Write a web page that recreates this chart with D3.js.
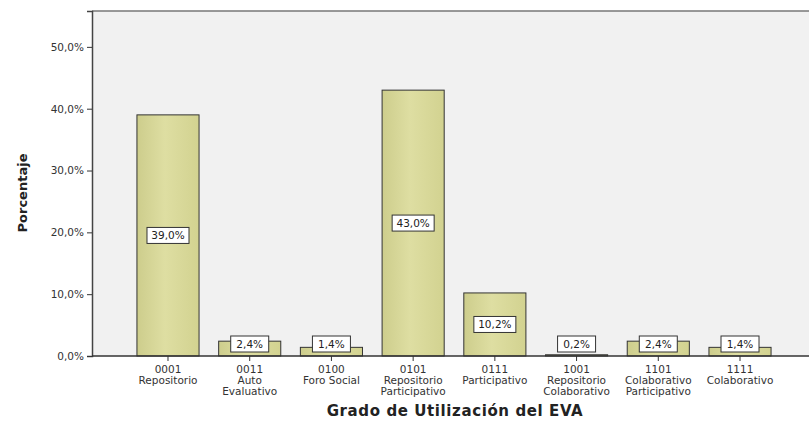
<!DOCTYPE html>
<html>
<head>
<meta charset="utf-8">
<script src="https://cdn.jsdelivr.net/npm/d3@7"></script>
<style>
  body { margin: 0; background: #fff; }
  text { font-family: 'DejaVu Sans', Verdana, sans-serif; }
</style>
</head>
<body>
<div id="chart"></div>
<script>
var codes = ['0001', '0011', '0100', '0101', '0111', '1001', '1101', '1111']
var names = [
  ['Repositorio'],
  ['Auto', 'Evaluativo'],
  ['Foro Social'],
  ['Repositorio', 'Participativo'],
  ['Participativo'],
  ['Repositorio', 'Colaborativo'],
  ['Colaborativo', 'Participativo'],
  ['Colaborativo']
]
var values = [39.0, 2.4, 1.4, 43.0, 10.2, 0.2, 2.4, 1.4]
var yTicks = [0, 10, 20, 30, 40, 50]

var margin = { top: 11, left: 92, right: 0, bottom: 70 }
var width = 809 - margin.left - margin.right
var height = 426 - margin.top - margin.bottom

var svg = d3
  .select('#chart')
  .append('svg')
  .attr('width', 809)
  .attr('height', 426)

var defs = svg.append('defs')
var grad = defs.append('linearGradient').attr('id', 'barFill')
grad.append('stop').attr('offset', '0%').attr('stop-color', '#cdcd8c')
grad.append('stop').attr('offset', '45%').attr('stop-color', '#dedea2')
grad.append('stop').attr('offset', '100%').attr('stop-color', '#d2d290')

var g = svg.append('g').attr('transform', `translate(${margin.left},${margin.top})`)

var xPositionScale = d3
  .scaleBand()
  .domain(codes)
  .range([0, 724])
  .paddingInner(0.24)
  .paddingOuter(0.55)

var yPositionScale = d3
  .scaleLinear()
  .domain([0, 55.8])
  .range([height, 0])

// plot background
g.append('rect')
  .attr('x', 0)
  .attr('y', 0)
  .attr('width', width)
  .attr('height', height)
  .attr('fill', '#f1f1f1')

g.append('line')
  .attr('x1', 0).attr('x2', width)
  .attr('y1', 0).attr('y2', 0)
  .attr('stroke', '#777')
  .attr('stroke-width', 1.5)

// bars
g.selectAll('.bar')
  .data(values)
  .enter()
  .append('rect')
  .attr('class', 'bar')
  .attr('x', (d, i) => xPositionScale(codes[i]))
  .attr('y', d => yPositionScale(d))
  .attr('width', xPositionScale.bandwidth())
  .attr('height', d => height - yPositionScale(d))
  .attr('fill', 'url(#barFill)')
  .attr('stroke', '#333')
  .attr('stroke-width', 1)

// value labels
var labels = g.selectAll('.lbl')
  .data(values)
  .enter()
  .append('g')
  .attr('class', 'lbl')
  .attr('transform', (d, i) => {
    var cx = xPositionScale(codes[i]) + xPositionScale.bandwidth() / 2
    var cy = Math.min((yPositionScale(d) + height) / 2, height - 12)
    return `translate(${cx},${cy})`
  })

labels.append('rect')
  .attr('x', d => d >= 10 ? -21 : -19)
  .attr('y', -8)
  .attr('width', d => d >= 10 ? 42 : 38)
  .attr('height', 16)
  .attr('fill', '#fff')
  .attr('stroke', '#333')

labels.append('text')
  .attr('text-anchor', 'middle')
  .attr('y', 4)
  .attr('font-size', 10.5)
  .attr('fill', '#222')
  .text(d => d.toFixed(1).replace('.', ',') + '%')

// axes
var yAxis = d3.axisLeft(yPositionScale)
  .tickValues(yTicks)
  .tickSize(5)
  .tickFormat(d => d.toFixed(1).replace('.', ',') + '%')

g.append('g')
  .attr('class', 'axis y-axis')
  .call(yAxis)
  .call(s => s.select('.domain').attr('stroke', '#444').attr('stroke-width', 1.5))
  .call(s => s.selectAll('.tick line').attr('stroke', '#333'))
  .call(s => s.selectAll('.tick text').attr('font-size', 10.5).attr('fill', '#333').attr('font-family', "'DejaVu Sans', sans-serif"))

var xAxis = d3.axisBottom(xPositionScale).tickSize(5).tickSizeOuter(0).tickFormat('')

var xg = g.append('g')
  .attr('class', 'axis x-axis')
  .attr('transform', `translate(0,${height})`)
  .call(xAxis)

xg.select('.domain').attr('d', `M0,0H${width}`).attr('stroke', '#333').attr('stroke-width', 1.5)
xg.selectAll('.tick line').attr('stroke', '#333')

xg.selectAll('.tick')
  .append('text')
  .attr('text-anchor', 'middle')
  .attr('font-size', 10.5)
  .attr('fill', '#333')
  .attr('font-family', "'DejaVu Sans', sans-serif")
  .each(function(d, i) {
    var t = d3.select(this)
    var lines = [d].concat(names[i])
    lines.forEach((l, k) => {
      t.append('tspan').attr('x', 0).attr('y', 17 + k * 11).text(l)
    })
  })

// axis titles
svg.append('text')
  .attr('transform', 'translate(27,193) rotate(-90)')
  .attr('text-anchor', 'middle')
  .attr('font-size', 13)
  .attr('font-weight', 'bold')
  .attr('fill', '#222')
  .text('Porcentaje')

svg.append('text')
  .attr('x', 455)
  .attr('y', 416)
  .attr('text-anchor', 'middle')
  .attr('font-size', 15)
  .attr('font-weight', 'bold')
  .attr('letter-spacing', 0.6)
  .attr('fill', '#222')
  .text('Grado de Utilización del EVA')
</script>
</body>
</html>
